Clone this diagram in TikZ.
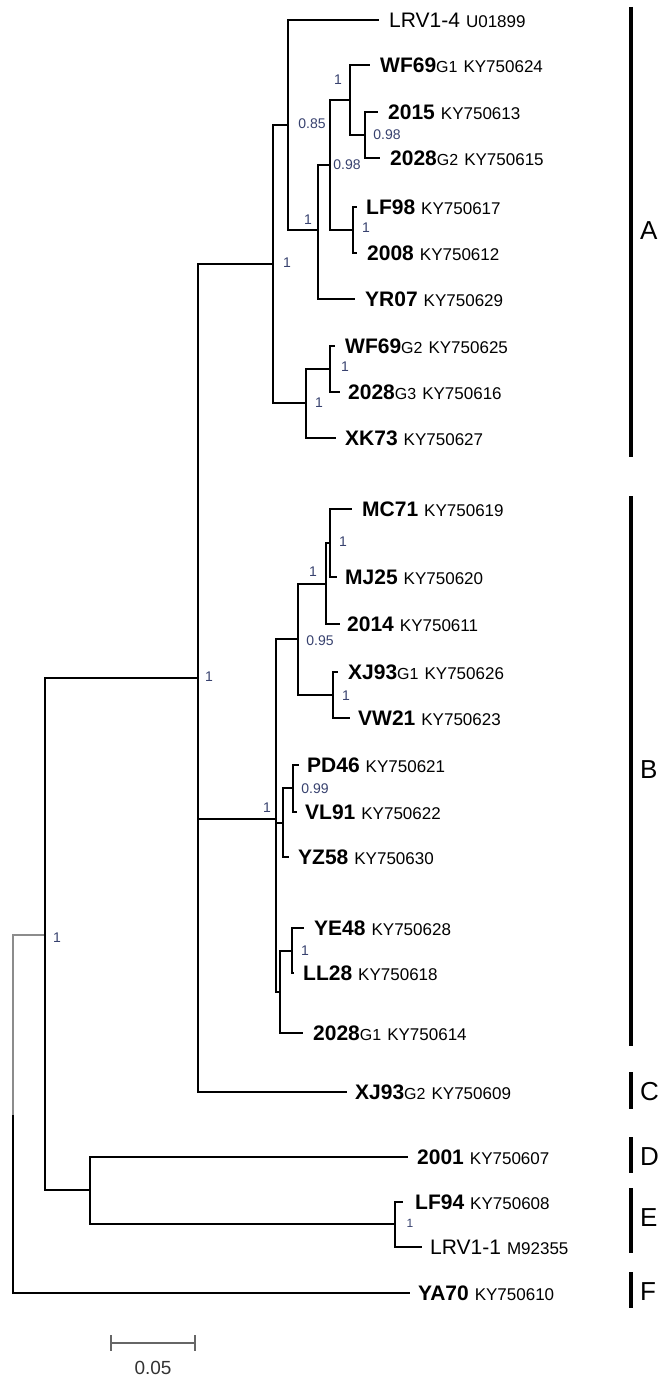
\documentclass[tikz,border=0pt]{standalone}
\usepackage{fontspec}
\setmainfont{Liberation Sans}
\newcommand\lnm{\fontsize{21}{24}\selectfont\bfseries}
\newcommand\lrg{\fontsize{21}{24}\selectfont\mdseries}
\newcommand\lgs{\fontsize{16}{18}\selectfont\mdseries}
\newcommand\lac{\fontsize{17}{20}\selectfont\mdseries}
\newcommand\tipb[3]{{\lnm #1}{\lgs #2}\hspace{6pt}{\lac #3}}
\newcommand\tipr[2]{{\lrg #1}\hspace{6pt}{\lac #2}}
\definecolor{supc}{RGB}{55,65,110}
\begin{document}
\begin{tikzpicture}[x=1pt,y=-1pt,
  br/.style={line width=1.4pt, line join=miter, line cap=butt, black},
  brg/.style={line width=1.4pt, line join=miter, line cap=butt, black!45},
  tipn/.style={anchor=west, inner sep=0pt},
  supl/.style={inner sep=0pt, text=supc, font=\fontsize{14}{16}\selectfont},
  grpbar/.style={line width=4.5pt, black},
  grpl/.style={anchor=west, inner sep=0pt, font=\fontsize{26}{30}\selectfont},
  scb/.style={line width=1.4pt, black!60}]
\useasboundingbox (0,0) rectangle (667,1378);

% internal nodes
\coordinate (n0) at (13,1115);
\coordinate (n1) at (45,935);
\coordinate (n2) at (198,678);
\coordinate (nA) at (273,264);
\coordinate (nA1) at (288,125);
\coordinate (nA3) at (318,230);
\coordinate (nA4) at (330,165);
\coordinate (nA5) at (350,100);
\coordinate (nA7) at (365,135);
\coordinate (nA6) at (353,230);
\coordinate (nA2) at (306,403);
\coordinate (nA8) at (330,369);
\coordinate (nB) at (276,819);
\coordinate (nB1) at (298,639);
\coordinate (nB4) at (326,584);
\coordinate (nB6) at (330,543);
\coordinate (nB5) at (333,695);
\coordinate (nB2) at (283,823);
\coordinate (nB7) at (293,788);
\coordinate (nB3) at (280,992);
\coordinate (nB8) at (292,951);
\coordinate (nDE) at (90,1190);
\coordinate (nE) at (395,1224);

% tips: branch ends and labels
\coordinate (lrv14) at (379,20);   \node[tipn] (Llrv14) at (389,20) {\tipr{LRV1-4}{U01899}};
\coordinate (wf69a) at (370,65);   \node[tipn] (Lwf69a) at (380,65) {\tipb{WF69}{G1}{KY750624}};
\coordinate (t2015) at (378,112);  \node[tipn] (Lt2015) at (388,112) {\tipb{2015}{}{KY750613}};
\coordinate (t2028b) at (380,158); \node[tipn] (Lt2028b) at (390,158) {\tipb{2028}{G2}{KY750615}};
\coordinate (lf98) at (357,207);   \node[tipn] (Llf98) at (366,207) {\tipb{LF98}{}{KY750617}};
\coordinate (t2008) at (357,253);  \node[tipn] (Lt2008) at (367,253) {\tipb{2008}{}{KY750612}};
\coordinate (yr07) at (355,299);   \node[tipn] (Lyr07) at (365,299) {\tipb{YR07}{}{KY750629}};
\coordinate (wf69b) at (335,346);  \node[tipn] (Lwf69b) at (345,346) {\tipb{WF69}{G2}{KY750625}};
\coordinate (t2028c) at (340,392); \node[tipn] (Lt2028c) at (348,392) {\tipb{2028}{G3}{KY750616}};
\coordinate (xk73) at (336,438);   \node[tipn] (Lxk73) at (345,438) {\tipb{XK73}{}{KY750627}};
\coordinate (mc71) at (352,509);   \node[tipn] (Lmc71) at (362,509) {\tipb{MC71}{}{KY750619}};
\coordinate (mj25) at (337,577);   \node[tipn] (Lmj25) at (345,577) {\tipb{MJ25}{}{KY750620}};
\coordinate (t2014) at (340,624);  \node[tipn] (Lt2014) at (347,624) {\tipb{2014}{}{KY750611}};
\coordinate (xj93a) at (338,672);  \node[tipn] (Lxj93a) at (348,672) {\tipb{XJ93}{G1}{KY750626}};
\coordinate (vw21) at (350,718);   \node[tipn] (Lvw21) at (358,718) {\tipb{VW21}{}{KY750623}};
\coordinate (pd46) at (299,765);   \node[tipn] (Lpd46) at (307,765) {\tipb{PD46}{}{KY750621}};
\coordinate (vl91) at (297,812);   \node[tipn] (Lvl91) at (305,812) {\tipb{VL91}{}{KY750622}};
\coordinate (yz58) at (289,857);   \node[tipn] (Lyz58) at (298,857) {\tipb{YZ58}{}{KY750630}};
\coordinate (ye48) at (304,928);   \node[tipn] (Lye48) at (314,928) {\tipb{YE48}{}{KY750628}};
\coordinate (ll28) at (294,973);   \node[tipn] (Lll28) at (303,973) {\tipb{LL28}{}{KY750618}};
\coordinate (t2028a) at (303,1033);\node[tipn] (Lt2028a) at (313,1033) {\tipb{2028}{G1}{KY750614}};
\coordinate (xj93b) at (347,1092); \node[tipn] (Lxj93b) at (355,1092) {\tipb{XJ93}{G2}{KY750609}};
\coordinate (t2001) at (408,1157); \node[tipn] (Lt2001) at (417,1157) {\tipb{2001}{}{KY750607}};
\coordinate (lf94) at (403,1202);  \node[tipn] (Llf94) at (415,1202) {\tipb{LF94}{}{KY750608}};
\coordinate (lrv11) at (422,1247); \node[tipn] (Llrv11) at (430,1247) {\tipr{LRV1-1}{M92355}};
\coordinate (ya70) at (410,1293);  \node[tipn] (Lya70) at (418,1293) {\tipb{YA70}{}{KY750610}};

% branches
\draw[brg] (n0) |- (n1);
\foreach \p/\c in {n0/ya70, n1/n2, n1/nDE, n2/nA, n2/nB, n2/xj93b,
  nA/nA1, nA/nA2, nA1/lrv14, nA1/nA3, nA3/nA4, nA3/yr07, nA4/nA5, nA4/nA6,
  nA5/wf69a, nA5/nA7, nA7/t2015, nA7/t2028b, nA6/lf98, nA6/t2008,
  nA2/nA8, nA2/xk73, nA8/wf69b, nA8/t2028c,
  nB/nB1, nB/nB2, nB/nB3, nB1/nB4, nB1/nB5, nB4/nB6, nB4/t2014,
  nB6/mc71, nB6/mj25, nB5/xj93a, nB5/vw21, nB2/nB7, nB2/yz58,
  nB7/pd46, nB7/vl91, nB3/nB8, nB3/t2028a, nB8/ye48, nB8/ll28,
  nDE/t2001, nDE/nE, nE/lf94, nE/lrv11}
  \draw[br] (\p) |- (\c);

% support values
\node[supl] (s1) at (312,124) {0.85};
\node[supl] (s2) at (338,80) {1};
\node[supl] (s3) at (387,135) {0.98};
\node[supl] (s4) at (347,165) {0.98};
\node[supl] (s5) at (308,220) {1};
\node[supl] (s6) at (366,228) {1};
\node[supl] (s7) at (287,263) {1};
\node[supl] (s8) at (345,367) {1};
\node[supl] (s9) at (319,403) {1};
\node[supl] (s10) at (209,677) {1};
\node[supl] (s11) at (57,938) {1};
\node[supl] (s12) at (343,542) {1};
\node[supl] (s13) at (313,572) {1};
\node[supl] (s14) at (320,641) {0.95};
\node[supl] (s15) at (346,696) {1};
\node[supl] (s16) at (315,789) {0.99};
\node[supl] (s17) at (267,808) {1};
\node[supl] (s18) at (305,951) {1};
\node[supl, font=\fontsize{12}{14}\selectfont] (s19) at (410,1223) {1};

% group bars
\draw[grpbar] (631,7) -- (631,457);
\draw[grpbar] (631,496) -- (631,1046);
\draw[grpbar] (631,1072) -- (631,1109);
\draw[grpbar] (631,1137) -- (631,1173);
\draw[grpbar] (631,1188) -- (631,1253);
\draw[grpbar] (631,1272) -- (631,1308);
\node[grpl] (gA) at (640,231) {A};
\node[grpl] (gB) at (640,770) {B};
\node[grpl] (gC) at (640,1092) {C};
\node[grpl] (gD) at (640,1157) {D};
\node[grpl] (gE) at (640,1218) {E};
\node[grpl] (gF) at (640,1292) {F};

% scale bar
\draw[scb] (111,1335) -- (111,1351) (111,1343) -- (195,1343) (195,1335) -- (195,1351);
\node[inner sep=0pt, font=\fontsize{19}{22}\selectfont, text=black!80] (sc) at (153,1368) {0.05};
\end{tikzpicture}
\end{document}
